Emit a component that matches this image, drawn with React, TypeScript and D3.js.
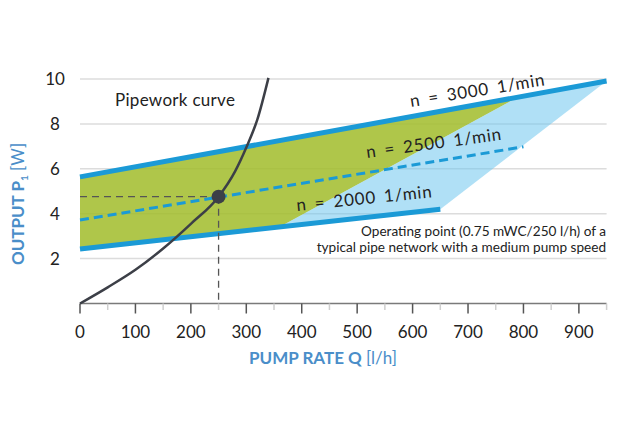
import React from "react";
import * as d3 from "d3";

// ---- data ----
const xTicks = [0, 100, 200, 300, 400, 500, 600, 700, 800, 900];
const xMinorTicks = [50, 150, 250, 350, 450, 550, 650, 750, 850, 950];
const yTicks = [2, 4, 6, 8, 10];

const speed3000Q = [0, 950];
const speed3000P = [5.64, 9.91];
const speed2500Q = [0, 800];
const speed2500P = [3.72, 6.98];
const speed2000Q = [0, 650];
const speed2000P = [2.43, 4.2];

// boundary between the green (operating) and light-blue region
const boundaryQ = [360, 790];
const boundaryP = [3.41, 9.19];

const pipeQ = [0, 50, 100, 150, 200, 250, 280, 300, 320, 340];
const pipeP = [0, 0.72, 1.5, 2.45, 3.55, 4.76, 5.9, 6.95, 8.2, 10.05];

const opQ = 250;
const opP = 4.76;

const speedLabels = ["n = 3000 1/min", "n = 2500 1/min", "n = 2000 1/min"];
const noteLines = [
  "Operating point (0.75 mWC/250 l/h) of a",
  "typical pipe network with a medium pump speed",
];

const FONT = "Lato, 'Open Sans', sans-serif";
const BLUE = "#1b9ad6";
const LABEL = "#4a8ec9";
const DARK = "#3c3f47";

export default function App() {
  const x = d3.scaleLinear().domain([0, 950]).range([80, 606.6]);
  const y = d3.scaleLinear().domain([0, 10]).range([303.5, 79]);

  const line = d3
    .line<[number, number]>()
    .x((d) => x(d[0]))
    .y((d) => y(d[1]));

  const zip = (q: number[], p: number[]) =>
    q.map((v, i) => [v, p[i]] as [number, number]);

  const greenPoly: [number, number][] = [
    [speed3000Q[0], speed3000P[0]],
    [boundaryQ[1], boundaryP[1]],
    [boundaryQ[0], boundaryP[0]],
    [speed2000Q[0], speed2000P[0]],
  ];
  const bluePoly: [number, number][] = [
    [boundaryQ[0], boundaryP[0]],
    [boundaryQ[1], boundaryP[1]],
    [speed3000Q[1], speed3000P[1]],
    [speed2000Q[1], speed2000P[1]],
  ];
  const polyPath = (pts: [number, number][]) => line(pts) + "Z";

  const pipeLine = d3
    .line<[number, number]>()
    .x((d) => x(d[0]))
    .y((d) => y(d[1]))
    .curve(d3.curveMonotoneX);

  const speedStyle = { wordSpacing: "3px", letterSpacing: "0.8px" } as React.CSSProperties;

  return (
    <svg
      width={620}
      height={445}
      style={{ position: "absolute", left: 0, top: 0, background: "#fff" }}
      fontFamily={FONT}
    >
      {/* grid */}
      {yTicks.map((t) => (
        <line
          key={"g" + t}
          x1={x(0)}
          x2={x(950)}
          y1={y(t)}
          y2={y(t)}
          stroke="#dcdcdc"
          strokeWidth={1.5}
        />
      ))}

      {/* regions */}
      <path d={polyPath(greenPoly)} fill="#a2bd2c" fillOpacity={0.86} />
      <path d={polyPath(bluePoly)} fill="#6fc6ee" fillOpacity={0.55} />

      {/* x axis */}
      <line x1={x(0)} x2={x(950)} y1={y(0)} y2={y(0)} stroke="#7a7a7a" strokeWidth={1.5} />
      {xMinorTicks.map((t) => (
        <line key={"m" + t} x1={x(t)} x2={x(t)} y1={y(0)} y2={y(0) + 6.5} stroke="#cfcfcf" strokeWidth={1.5} />
      ))}
      {xTicks.map((t) => (
        <line key={"M" + t} x1={x(t)} x2={x(t)} y1={y(0)} y2={y(0) + 10} stroke="#555" strokeWidth={1.5} />
      ))}
      {xTicks.map((t) => (
        <text key={"xl" + t} x={x(t)} y={338} textAnchor="middle" fontSize={17} fill="#222">
          {t}
        </text>
      ))}
      {yTicks.map((t) => (
        <text key={"yl" + t} x={55} y={y(t)} dy="0.36em" textAnchor="middle" fontSize={17} fill="#222">
          {t}
        </text>
      ))}

      {/* speed lines */}
      <path d={line(zip(speed3000Q, speed3000P)) || ""} stroke={BLUE} strokeWidth={5} fill="none" />
      <path d={line(zip(speed2000Q, speed2000P)) || ""} stroke={BLUE} strokeWidth={5} fill="none" />
      <path
        d={line(zip(speed2500Q, speed2500P)) || ""}
        stroke={BLUE}
        strokeWidth={3}
        strokeDasharray="9,5"
        fill="none"
      />

      {/* operating point guides */}
      <line x1={x(0)} x2={x(opQ)} y1={y(opP)} y2={y(opP)} stroke="#555" strokeWidth={1.3} strokeDasharray="7,5" />
      <line x1={x(opQ)} x2={x(opQ)} y1={y(opP)} y2={y(0)} stroke="#555" strokeWidth={1.3} strokeDasharray="7,5" />

      {/* pipework curve */}
      <path d={pipeLine(zip(pipeQ, pipeP)) || ""} stroke={DARK} strokeWidth={2.5} fill="none" />
      <circle cx={x(opQ)} cy={y(opP)} r={7} fill={DARK} />

      {/* labels */}
      <text x={115} y={106} fontSize={17} fill="#222" style={{ letterSpacing: "0.3px" }}>
        Pipework curve
      </text>
      <text transform="translate(411,107) rotate(-9.2)" fontSize={17} fill="#222" style={speedStyle}>
        {speedLabels[0]}
      </text>
      <text transform="translate(367,158) rotate(-7.7)" fontSize={17} fill="#222" style={speedStyle}>
        {speedLabels[1]}
      </text>
      <text transform="translate(297,211) rotate(-5.8)" fontSize={17} fill="#222" style={speedStyle}>
        {speedLabels[2]}
      </text>
      {noteLines.map((s, i) => (
        <text key={"n" + i} x={606} y={236 + i * 16} textAnchor="end" fontSize={13.6} fill="#222">
          {s}
        </text>
      ))}

      {/* axis titles */}
      <text x={323} y={364} textAnchor="middle" fontSize={17} fill={LABEL}>
        <tspan fontWeight="bold">PUMP RATE Q </tspan>
        <tspan>[l/h]</tspan>
      </text>
      <text transform="translate(24,204) rotate(-90)" textAnchor="middle" fontSize={17} fill={LABEL}>
        <tspan fontWeight="bold">OUTPUT P</tspan>
        <tspan fontWeight="bold" fontSize={10} dy={4}>1</tspan>
        <tspan dy={-4}> [W]</tspan>
      </text>
    </svg>
  );
}
